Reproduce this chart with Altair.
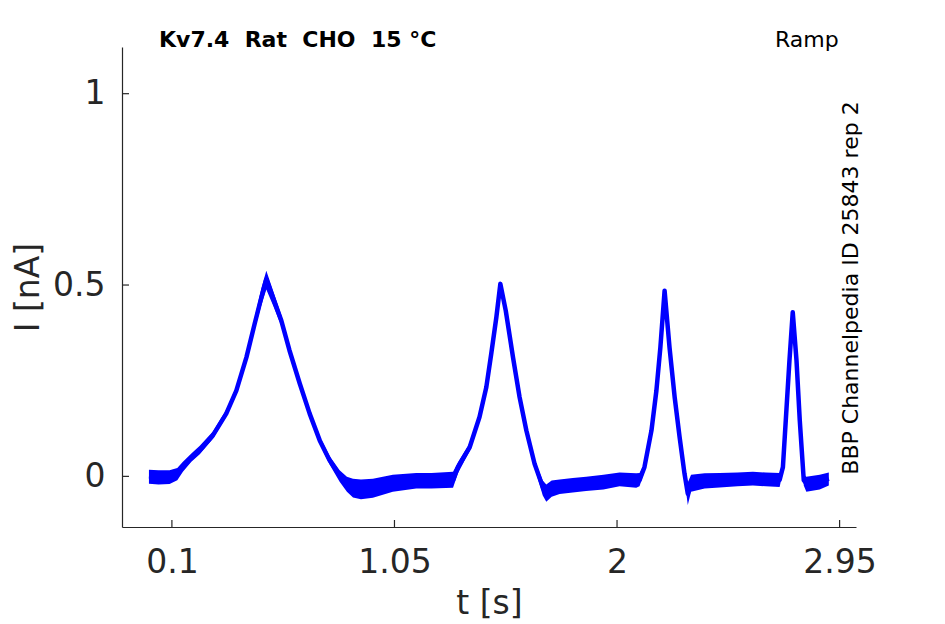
import altair as alt
import pandas as pd

# ---- data ----
t_s = [0.002, 0.043, 0.090, 0.123, 0.147, 0.183, 0.219, 0.275, 0.332, 0.375,
       0.418, 0.453, 0.482, 0.503, 0.531, 0.567, 0.602, 0.646, 0.688, 0.731,
       0.773, 0.816, 0.847, 0.873, 0.907, 0.958, 1.043, 1.143, 1.208, 1.300,
       1.321, 1.371, 1.413, 1.442, 1.463, 1.485, 1.502, 1.525, 1.556, 1.584,
       1.613, 1.648, 1.683, 1.698, 1.721, 1.755, 1.811, 1.868, 1.942, 2.011,
       2.082, 2.096, 2.117, 2.147, 2.168, 2.185, 2.203, 2.224, 2.246, 2.267,
       2.288, 2.302, 2.316, 2.374, 2.438, 2.514, 2.580, 2.635, 2.694, 2.708,
       2.722, 2.736, 2.750, 2.766, 2.780, 2.797, 2.808, 2.865, 2.904]
i_mid = [0.000, -0.002, -0.002, 0.006, 0.025, 0.048, 0.068, 0.107, 0.164, 0.224,
         0.311, 0.398, 0.468, 0.515, 0.468, 0.407, 0.329, 0.242, 0.164, 0.094,
         0.042, 0.003, -0.018, -0.028, -0.030, -0.028, -0.015, -0.010, -0.012, -0.010,
         0.024, 0.076, 0.155, 0.233, 0.320, 0.416, 0.503, 0.433, 0.311, 0.207,
         0.120, 0.033, -0.028, -0.050, -0.030, -0.028, -0.022, -0.019, -0.015, -0.008,
         -0.012, -0.010, 0.024, 0.120, 0.224, 0.337, 0.485, 0.337, 0.207, 0.103,
         0.007, -0.045, -0.015, -0.012, -0.010, -0.008, -0.006, -0.008, -0.009, 0.024,
         0.164, 0.303, 0.429, 0.303, 0.146, -0.010, -0.019, -0.015, -0.006]
i_lo = [-0.019, -0.021, -0.020, -0.010, 0.012, 0.038, 0.058, 0.098, 0.156, 0.214,
        0.298, 0.383, 0.448, 0.488, 0.448, 0.393, 0.318, 0.232, 0.155, 0.085,
        0.031, -0.014, -0.040, -0.055, -0.060, -0.056, -0.040, -0.032, -0.032, -0.030,
        0.008, 0.066, 0.146, 0.224, 0.311, 0.406, 0.488, 0.423, 0.301, 0.198,
        0.111, 0.023, -0.050, -0.066, -0.053, -0.046, -0.042, -0.038, -0.034, -0.026,
        -0.030, -0.026, 0.013, 0.111, 0.215, 0.328, 0.468, 0.328, 0.198, 0.094,
        -0.008, -0.075, -0.040, -0.032, -0.029, -0.026, -0.024, -0.026, -0.028, 0.013,
        0.155, 0.294, 0.418, 0.294, 0.137, -0.024, -0.040, -0.034, -0.024]
i_hi = [0.017, 0.016, 0.016, 0.022, 0.038, 0.060, 0.080, 0.117, 0.174, 0.234,
        0.324, 0.414, 0.492, 0.537, 0.487, 0.422, 0.342, 0.252, 0.173, 0.104,
        0.053, 0.016, -0.001, -0.006, -0.008, -0.006, 0.004, 0.009, 0.009, 0.012,
        0.037, 0.087, 0.164, 0.242, 0.329, 0.426, 0.510, 0.444, 0.321, 0.216,
        0.129, 0.043, -0.011, -0.021, -0.011, -0.008, -0.004, -0.001, 0.004, 0.010,
        0.008, 0.009, 0.034, 0.129, 0.233, 0.346, 0.490, 0.346, 0.216, 0.112,
        0.018, -0.016, 0.004, 0.008, 0.009, 0.010, 0.012, 0.010, 0.009, 0.034,
        0.173, 0.312, 0.432, 0.312, 0.155, 0.004, -0.001, 0.004, 0.010]

x_ticks = [0.1, 1.05, 2, 2.95]
y_ticks = [0, 0.5, 1]

title_words = ["Kv7.4", "Rat", "CHO", "15 °C"]
corner_text = "Ramp"
side_text = "BBP Channelpedia ID 25843 rep 2"
x_title = "t [s]"
y_title = "I [nA]"

# ---- chart ----
W, H = 734, 480
BLUE = "#0000FF"
AX = "#262626"
FONT = "DejaVu Sans"
title_text = "\u00a0 ".join(title_words)  # keep the wide gaps (SVG collapses plain spaces)

df = pd.DataFrame({"t": t_s, "i": i_mid, "lo": i_lo, "hi": i_hi})
xt = pd.DataFrame({"v": x_ticks})
yt = pd.DataFrame({"v": y_ticks})
one = pd.DataFrame({"k": [0]})

xscale = alt.Scale(domain=[-0.113, 3.020], nice=False, zero=False)
yscale = alt.Scale(domain=[-0.1323, 1.122], nice=False, zero=False)

xaxis = alt.Axis(values=x_ticks, labelExpr="format(datum.value, '~g')", grid=False,
                 ticks=False, tickSize=0,
                 labelFontSize=33, labelFont=FONT, labelColor=AX,
                 labelBaseline="alphabetic", labelPadding=45, labelFlush=False,
                 domainColor=AX, domainWidth=1.2,
                 title=x_title, titleFont=FONT, titleFontSize=33, titleFontWeight="normal",
                 titleColor=AX, titleX=W / 2, titleY=86, titleAlign="center",
                 titleBaseline="alphabetic")
yaxis = alt.Axis(values=y_ticks, labelExpr="format(datum.value, '~g')", grid=False,
                 ticks=False, tickSize=0,
                 labelFontSize=33, labelFont=FONT, labelColor=AX,
                 labelPadding=17, labelFlush=False,
                 domainColor=AX, domainWidth=1.2,
                 title=y_title, titleFont=FONT, titleFontSize=33, titleFontWeight="normal",
                 titleColor=AX, titleX=-84, titleY=H / 2, titleAngle=270,
                 titleAlign="center", titleBaseline="alphabetic")

band = alt.Chart(df).mark_area(color=BLUE, opacity=1, interpolate="linear").encode(
    x=alt.X("t:Q", scale=xscale, axis=xaxis),
    y=alt.Y("lo:Q", scale=yscale, axis=yaxis),
    y2="hi:Q",
)
line = alt.Chart(df).mark_line(color=BLUE, strokeWidth=4.5, strokeJoin="round").encode(
    x=alt.X("t:Q", scale=xscale, axis=xaxis),
    y=alt.Y("i:Q", scale=yscale, axis=yaxis),
)
xtick_marks = alt.Chart(xt).mark_rule(color=AX, strokeWidth=1.2).encode(
    x=alt.X("v:Q", scale=xscale, axis=xaxis),
    y=alt.value(H),
    y2=alt.value(H - 7),
)
ytick_marks = alt.Chart(yt).mark_rule(color=AX, strokeWidth=1.2).encode(
    y=alt.Y("v:Q", scale=yscale, axis=yaxis),
    x=alt.value(0),
    x2=alt.value(7),
)
title_mark = alt.Chart(one).mark_text(
    text=title_text, font=FONT, fontSize=22, fontWeight="bold", color="#000000",
    align="left", baseline="alphabetic").encode(x=alt.value(37), y=alt.value(0))
corner_mark = alt.Chart(one).mark_text(
    text=corner_text, font=FONT, fontSize=22, color="#000000",
    align="left", baseline="alphabetic").encode(x=alt.value(653), y=alt.value(0))
side_mark = alt.Chart(one).mark_text(
    text=side_text, font=FONT, fontSize=22, color="#000000", angle=270,
    align="center", baseline="alphabetic").encode(x=alt.value(736), y=alt.value(241))

chart = alt.layer(band, line, xtick_marks, ytick_marks, title_mark, corner_mark, side_mark).properties(
    width=W, height=H,
    autosize=alt.AutoSizeParams(type="none"),
    padding={"left": 114, "top": 39, "right": 71, "bottom": 94},
    background="white",
).configure_view(stroke=None)

chart.save("out.html", embed_options={"renderer": "svg", "actions": False})
